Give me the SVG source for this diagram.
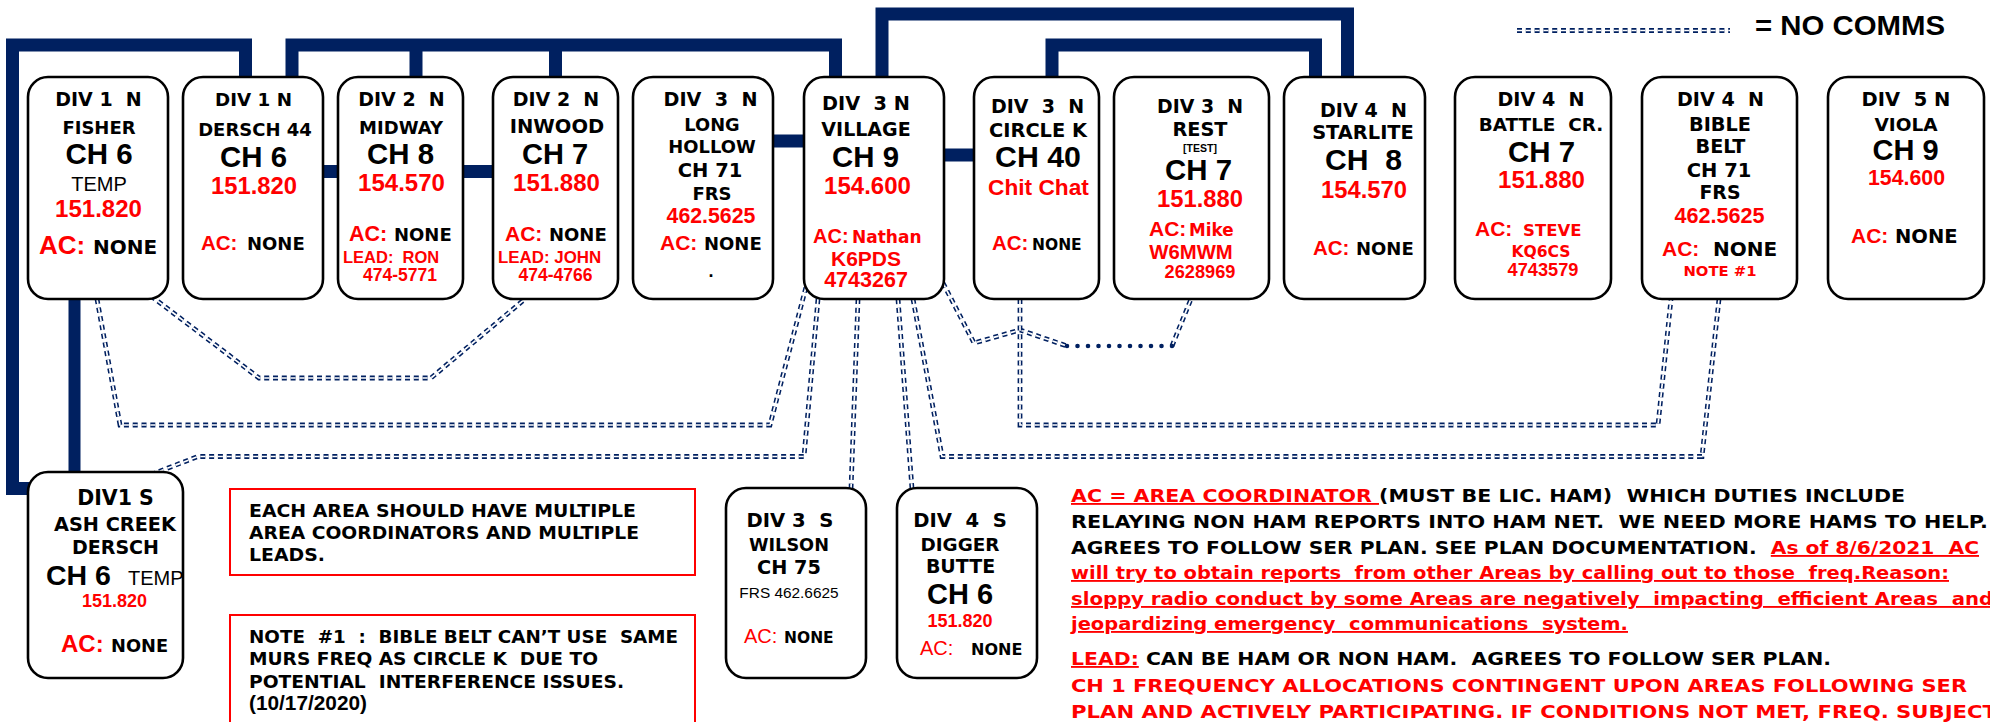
<svg xmlns="http://www.w3.org/2000/svg" xmlns:xlink="http://www.w3.org/1999/xlink" width="1990" height="722" viewBox="0 0 1990 722" xml:space="preserve">
<style>
text{white-space:pre}
.node rect{fill:#fff;stroke:#000;stroke-width:2.6}
.v{font-family:"DejaVu Sans",Verdana,sans-serif;font-weight:bold}
.a{font-family:"Liberation Sans",Arial,sans-serif;font-weight:bold}
.ar{font-family:"Liberation Sans",Arial,sans-serif;font-weight:normal}
.m{text-anchor:middle}
.r{fill:#ff0000}
.th{fill:none;stroke:#002060;stroke-width:13;stroke-linejoin:miter;stroke-linecap:butt}
.nc{fill:none;stroke:#002060;stroke-width:4.8;stroke-dasharray:5 3.8}
.nci{fill:none;stroke:#fff;stroke-width:1.7;stroke-dasharray:5 3.8}
.dot{fill:none;stroke:#002060;stroke-width:4.6;stroke-linecap:round;stroke-dasharray:0 10.5}
.note{fill:none;stroke:#ff0000;stroke-width:2}
</style>
<defs>
<path id="d1" d="M97,299 L120,425 H770 L806,287"/>
<path id="d2" d="M151,296 L259,378 H431 L525,299"/>
<path id="d3" d="M818,299 L804,456.5 H198 L155,473"/>
<path id="d4" d="M858,299 L851,489"/>
<path id="d5" d="M898,299 L912,489"/>
<path id="d6" d="M913,299 L942,456.5 H1702 L1719,299"/>
<path id="d7" d="M943,283 L974,343 L1020,330 L1067,346"/>
<path id="d7b" d="M1172,346 L1191,299"/>
<path id="d8" d="M1020,299 V425 H1658 L1671,299"/>
<path id="lg" d="M1517,30.5 H1730"/>
</defs>
<rect x="0" y="0" width="1990" height="722" fill="#fff"/>
<g id="connectors">
<path class="th" d="M245.5,80 V45 H12.5 V488.5 H30"/>
<path class="th" style="stroke-width:12" d="M74.5,297 V474"/>
<path class="th" d="M292,80 V45 H835.5 V80 M416,45 V80 M555.5,45 V80"/>
<path class="th" d="M882,80 V14 H1347.5 V80"/>
<path class="th" d="M1052,80 V45 H1315.5 V80"/>
<path class="th" d="M321,171.5 H341 M461,171.5 H496"/>
<path class="th" d="M771,141 H807 M941,155 H977"/>
<use href="#d1" class="nc"/><use href="#d1" class="nci"/>
<use href="#d2" class="nc"/><use href="#d2" class="nci"/>
<use href="#d3" class="nc"/><use href="#d3" class="nci"/>
<use href="#d4" class="nc"/><use href="#d4" class="nci"/>
<use href="#d5" class="nc"/><use href="#d5" class="nci"/>
<use href="#d6" class="nc"/><use href="#d6" class="nci"/>
<use href="#d7" class="nc"/><use href="#d7" class="nci"/>
<use href="#d7b" class="nc"/><use href="#d7b" class="nci"/>
<use href="#d8" class="nc"/><use href="#d8" class="nci"/>
<path class="dot" d="M1067,346 H1173"/>
</g>
<g id="legend">
<use href="#lg" class="nc"/><use href="#lg" class="nci"/>
<text class="a" x="1755" y="35" font-size="28.5" textLength="190" lengthAdjust="spacingAndGlyphs">= NO COMMS</text>
</g>
<g id="n-fisher" class="node">
<rect x="28" y="77" width="140" height="222" rx="20"/>
<text class="v m" x="98.5" y="106" font-size="19">DIV 1  N</text>
<text class="v m" x="99" y="134" font-size="18">FISHER</text>
<text class="a m" x="99" y="164" font-size="29.5">CH 6</text>
<text class="ar m" x="99" y="191" font-size="20">TEMP</text>
<text class="a m r" x="98.5" y="217" font-size="24">151.820</text>
<text y="254"><tspan class="a r" x="39" font-size="26">AC:</tspan><tspan class="v" x="93" font-size="20">NONE</tspan></text>
</g>
<g id="n-dersch44" class="node">
<rect x="183" y="77" width="140" height="222" rx="20"/>
<text class="v m" x="253.5" y="106" font-size="18.3">DIV 1 N</text>
<text class="v m" x="255" y="136" font-size="18">DERSCH 44</text>
<text class="a m" x="253.5" y="167" font-size="29.4">CH 6</text>
<text class="a m r" x="254" y="194" font-size="23.8">151.820</text>
<text y="250"><tspan class="a r" x="201" font-size="20.5">AC:</tspan><tspan class="v" x="247" font-size="18">NONE</tspan></text>
</g>
<g id="n-midway" class="node">
<rect x="338" y="77" width="125" height="222" rx="20"/>
<text class="v m" x="401.5" y="106" font-size="19">DIV 2  N</text>
<text class="v m" x="401" y="134" font-size="18">MIDWAY</text>
<text class="a m" x="400.5" y="164" font-size="29.4">CH 8</text>
<text class="a m r" x="401.5" y="191" font-size="24">154.570</text>
<text y="241"><tspan class="a r" x="349" font-size="21.5">AC:</tspan><tspan class="v" x="394" font-size="18">NONE</tspan></text>
<text class="a r" x="343" y="263" font-size="16.5">LEAD:  RON</text>
<text class="a m r" x="400" y="281" font-size="17.5">474-5771</text>
</g>
<g id="n-inwood" class="node">
<rect x="493" y="77" width="125" height="222" rx="20"/>
<text class="v m" x="556" y="106" font-size="19">DIV 2  N</text>
<text class="v m" x="557" y="133" font-size="19.5">INWOOD</text>
<text class="a m" x="555" y="164" font-size="29">CH 7</text>
<text class="a m r" x="556.5" y="191" font-size="24">151.880</text>
<text y="241"><tspan class="a r" x="505" font-size="21">AC:</tspan><tspan class="v" x="549" font-size="18">NONE</tspan></text>
<text class="a r" x="498" y="263" font-size="16.9">LEAD: JOHN</text>
<text class="a m r" x="555.5" y="281" font-size="17.5">474-4766</text>
</g>
<g id="n-longhollow" class="node">
<rect x="633" y="77" width="140" height="222" rx="20"/>
<text class="v m" x="710.5" y="106" font-size="19.2">DIV  3  N</text>
<text class="v m" x="712" y="131" font-size="17.8">LONG</text>
<text class="v m" x="712" y="153" font-size="17.9">HOLLOW</text>
<text class="v m" x="710" y="177" font-size="19.5">CH 71</text>
<text class="v m" x="712" y="200" font-size="18">FRS</text>
<text class="a m r" x="711" y="223" font-size="21.3">462.5625</text>
<text y="250"><tspan class="a r" x="660" font-size="21">AC:</tspan><tspan class="v" x="704" font-size="18">NONE</tspan></text>
<text class="a m" x="711" y="277" font-size="18">.</text>
</g>
<g id="n-village" class="node">
<rect x="804" y="77" width="140" height="222" rx="20"/>
<text class="v m" x="866" y="110" font-size="19.3">DIV  3 N</text>
<text class="v m" x="866" y="136" font-size="19">VILLAGE</text>
<text class="a m" x="865.5" y="167" font-size="29.4">CH 9</text>
<text class="a m r" x="867.5" y="194" font-size="24">154.600</text>
<text y="243"><tspan class="a r" x="813" font-size="20">AC:</tspan><tspan class="v r" x="852" font-size="17">Nathan</tspan></text>
<text class="a m r" x="866" y="266" font-size="21">K6PDS</text>
<text class="a m r" x="866" y="287" font-size="21.5">4743267</text>
</g>
<g id="n-circlek" class="node">
<rect x="974" y="77" width="125" height="222" rx="20"/>
<text class="v m" x="1037.5" y="113" font-size="19">DIV  3  N</text>
<text class="v m" x="1038" y="137" font-size="19.4">CIRCLE K</text>
<text class="a m" x="1038" y="167" font-size="30.3">CH 40</text>
<text class="a m r" x="1038.5" y="195" font-size="22.7">Chit Chat</text>
<text y="250"><tspan class="a r" x="992" font-size="20.5">AC:</tspan><tspan class="v" x="1032" font-size="15.5">NONE</tspan></text>
</g>
<g id="n-rest" class="node">
<rect x="1114" y="77" width="155" height="222" rx="20"/>
<text class="v m" x="1200" y="113" font-size="18.9">DIV 3  N</text>
<text class="v m" x="1200" y="136" font-size="19.3">REST</text>
<text class="a m" x="1200" y="152" font-size="10.5">[TEST]</text>
<text class="a m" x="1198.5" y="180" font-size="29.4">CH 7</text>
<text class="a m r" x="1200" y="207" font-size="23.8">151.880</text>
<text y="236"><tspan class="a r" x="1149" font-size="21">AC:</tspan><tspan class="v r" x="1189" font-size="16.8">Mike</tspan></text>
<text class="a m r" x="1191" y="259" font-size="20.3">W6MWM</text>
<text class="a m r" x="1200" y="278" font-size="18.2">2628969</text>
</g>
<g id="n-starlite" class="node">
<rect x="1284" y="77" width="141" height="222" rx="20"/>
<text class="v m" x="1363.5" y="117" font-size="19.1">DIV 4  N</text>
<text class="v m" x="1363" y="139" font-size="19.4">STARLITE</text>
<text class="a m" x="1363.5" y="170" font-size="30.1">CH  8</text>
<text class="a m r" x="1364" y="198" font-size="23.8">154.570</text>
<text y="255"><tspan class="a r" x="1313" font-size="20.5">AC:</tspan><tspan class="v" x="1356" font-size="18">NONE</tspan></text>
</g>
<g id="n-battlecr" class="node">
<rect x="1455" y="77" width="156" height="222" rx="20"/>
<text class="v m" x="1541" y="106" font-size="19.1">DIV 4  N</text>
<text class="v m" x="1541" y="131" font-size="18.4">BATTLE  CR.</text>
<text class="a m" x="1541.5" y="162" font-size="29.4">CH 7</text>
<text class="a m r" x="1541.5" y="188" font-size="24">151.880</text>
<text y="236"><tspan class="a r" x="1475" font-size="21">AC:</tspan><tspan class="v r" x="1523" font-size="16.5">STEVE</tspan></text>
<text class="v m r" x="1541" y="257" font-size="15.6">KQ6CS</text>
<text class="a m r" x="1543" y="276" font-size="18.2">4743579</text>
</g>
<g id="n-biblebelt" class="node">
<rect x="1642" y="77" width="155" height="222" rx="20"/>
<text class="v m" x="1720.5" y="106" font-size="19.1">DIV 4  N</text>
<text class="v m" x="1720" y="131" font-size="19.3">BIBLE</text>
<text class="v m" x="1720.5" y="153" font-size="19.2">BELT</text>
<text class="v m" x="1719" y="177" font-size="19.5">CH 71</text>
<text class="v m" x="1720" y="199" font-size="18.9">FRS</text>
<text class="a m r" x="1719.5" y="223" font-size="21.6">462.5625</text>
<text y="256"><tspan class="a r" x="1662" font-size="21">AC:</tspan><tspan class="v" x="1713" font-size="20">NONE</tspan></text>
<text class="v m r" x="1720" y="276" font-size="14.8">NOTE #1</text>
</g>
<g id="n-viola" class="node">
<rect x="1828" y="77" width="156" height="222" rx="20"/>
<text class="v m" x="1906" y="106" font-size="19.5">DIV  5 N</text>
<text class="v m" x="1906" y="131" font-size="18.5">VIOLA</text>
<text class="a m" x="1905.5" y="160" font-size="29">CH 9</text>
<text class="a m r" x="1906.5" y="185" font-size="21.3">154.600</text>
<text y="243"><tspan class="a r" x="1851" font-size="21">AC:</tspan><tspan class="v" x="1895" font-size="19.5">NONE</tspan></text>
</g>
<g id="n-ashcreek" class="node">
<rect x="28" y="472" width="155" height="206" rx="20"/>
<text class="v m" x="115.5" y="505" font-size="20.5">DIV1 S</text>
<text class="v m" x="115" y="531" font-size="19.3">ASH CREEK</text>
<text class="v m" x="115.5" y="554" font-size="19">DERSCH</text>
<text class="a" x="46" y="585" font-size="28.5">CH 6</text>
<text class="ar" x="128" y="585" font-size="20">TEMP</text>
<text class="a m r" x="114.5" y="607" font-size="18">151.820</text>
<text y="652"><tspan class="a r" x="61" font-size="24">AC:</tspan><tspan class="v" x="111" font-size="17.8">NONE</tspan></text>
</g>
<g id="n-wilson" class="node">
<rect x="726" y="488" width="140" height="190" rx="20"/>
<text class="v m" x="790" y="527" font-size="19.6">DIV 3  S</text>
<text class="v m" x="789" y="551" font-size="17.7">WILSON</text>
<text class="v m" x="789" y="574" font-size="19.3">CH 75</text>
<text class="ar m" x="789" y="598" font-size="15.4">FRS 462.6625</text>
<text y="643"><tspan class="ar r" x="744" font-size="20">AC:</tspan><tspan class="v" x="784" font-size="15.5">NONE</tspan></text>
</g>
<g id="n-diggerbutte" class="node">
<rect x="897" y="488" width="140" height="190" rx="20"/>
<text class="v m" x="960" y="527" font-size="19.6">DIV  4  S</text>
<text class="v m" x="960" y="551" font-size="18.4">DIGGER</text>
<text class="v m" x="960.5" y="573" font-size="19">BUTTE</text>
<text class="a m" x="960" y="604" font-size="29">CH 6</text>
<text class="a m r" x="960" y="627" font-size="18">151.820</text>
<text y="655"><tspan class="ar r" x="920" font-size="20">AC:</tspan><tspan class="v" x="971" font-size="16">NONE</tspan></text>
</g>
<g id="note-areas">
<rect class="note" x="230" y="489" width="465" height="86"/>
<text class="v" x="249" y="517" font-size="18.5" textLength="387" lengthAdjust="spacingAndGlyphs">EACH AREA SHOULD HAVE MULTIPLE</text>
<text class="v" x="249" y="539" font-size="18.5" textLength="390" lengthAdjust="spacingAndGlyphs">AREA COORDINATORS AND MULTIPLE</text>
<text class="v" x="249" y="561" font-size="18.5" textLength="76" lengthAdjust="spacingAndGlyphs">LEADS.</text>
</g>
<g id="note-1">
<rect class="note" x="230" y="615" width="465" height="120"/>
<text class="v" x="249" y="643" font-size="18.5" textLength="429" lengthAdjust="spacingAndGlyphs">NOTE  #1  :  BIBLE BELT CAN’T USE  SAME</text>
<text class="v" x="249" y="665" font-size="18.5" textLength="349" lengthAdjust="spacingAndGlyphs">MURS FREQ AS CIRCLE K  DUE TO</text>
<text class="v" x="249" y="688" font-size="18.5" textLength="375" lengthAdjust="spacingAndGlyphs">POTENTIAL  INTERFERENCE ISSUES.</text>
<text class="a" x="249" y="710" font-size="20.5" textLength="118" lengthAdjust="spacingAndGlyphs">(10/17/2020)</text>
</g>
<g id="legend-text" class="v" font-size="18.5">
<text x="1071" y="502" textLength="834" lengthAdjust="spacingAndGlyphs"><tspan class="r" text-decoration="underline">AC = AREA COORDINATOR </tspan>(MUST BE LIC. HAM)  WHICH DUTIES INCLUDE</text>
<text x="1071" y="528" textLength="917" lengthAdjust="spacingAndGlyphs">RELAYING NON HAM REPORTS INTO HAM NET.  WE NEED MORE HAMS TO HELP.</text>
<text x="1071" y="554" textLength="908" lengthAdjust="spacingAndGlyphs">AGREES TO FOLLOW SER PLAN. SEE PLAN DOCUMENTATION.  <tspan class="r" text-decoration="underline">As of 8/6/2021  AC</tspan></text>
<text class="r" x="1071" y="579" textLength="878" lengthAdjust="spacingAndGlyphs" text-decoration="underline">will try to obtain reports  from other Areas by calling out to those  freq.Reason:</text>
<text class="r" x="1071" y="605" textLength="922" lengthAdjust="spacingAndGlyphs" text-decoration="underline">sloppy radio conduct by some Areas are negatively  impacting  efficient Areas  and</text>
<text class="r" x="1071" y="630" textLength="557" lengthAdjust="spacingAndGlyphs" text-decoration="underline">jeopardizing emergency  communications  system.</text>
<text x="1071" y="665" textLength="760" lengthAdjust="spacingAndGlyphs"><tspan class="r" text-decoration="underline">LEAD:</tspan> CAN BE HAM OR NON HAM.  AGREES TO FOLLOW SER PLAN.</text>
<text class="r" x="1071" y="692" textLength="896" lengthAdjust="spacingAndGlyphs">CH 1 FREQUENCY ALLOCATIONS CONTINGENT UPON AREAS FOLLOWING SER</text>
<text class="r" x="1071" y="718" textLength="926" lengthAdjust="spacingAndGlyphs">PLAN AND ACTIVELY PARTICIPATING. IF CONDITIONS NOT MET, FREQ. SUBJECT</text>
</g>
</svg>
